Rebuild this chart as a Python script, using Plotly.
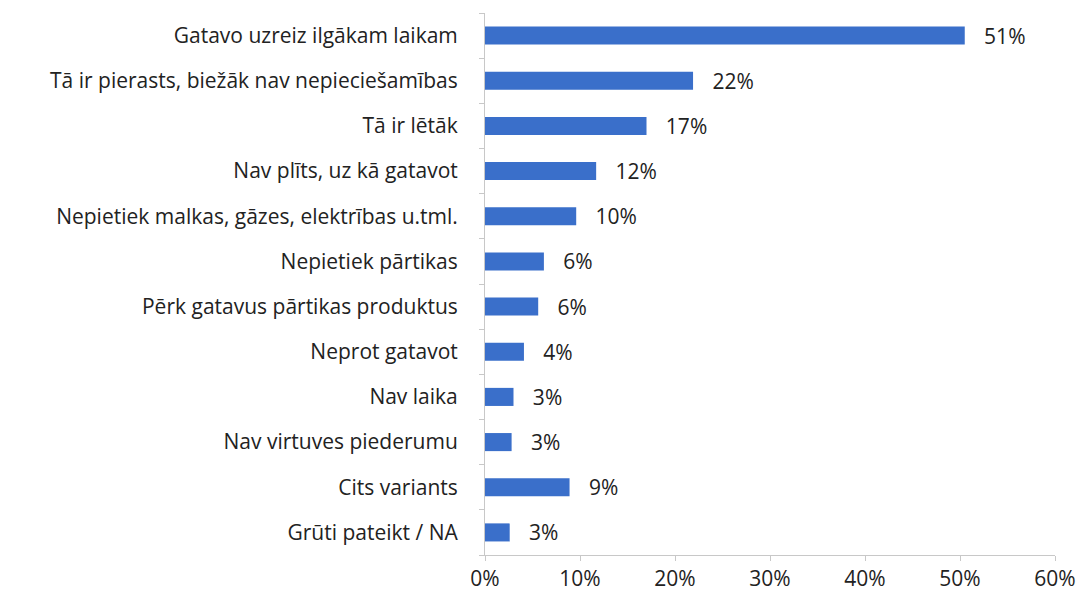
import plotly.graph_objects as go

categories = [
    "Gatavo uzreiz ilgākam laikam",
    "Tā ir pierasts, biežāk nav nepieciešamības",
    "Tā ir lētāk",
    "Nav plīts, uz kā gatavot",
    "Nepietiek malkas, gāzes, elektrības u.tml.",
    "Nepietiek pārtikas",
    "Pērk gatavus pārtikas produktus",
    "Neprot gatavot",
    "Nav laika",
    "Nav virtuves piederumu",
    "Cits variants",
    "Grūti pateikt / NA",
]
values = [50.5, 21.9, 17.0, 11.7, 9.6, 6.2, 5.6, 4.1, 3.0, 2.8, 8.9, 2.6]
labels = ["51%", "22%", "17%", "12%", "10%", "6%", "6%", "4%", "3%", "3%", "9%", "3%"]
x_ticks = [0, 10, 20, 30, 40, 50, 60]
x_tick_labels = ["0%", "10%", "20%", "30%", "40%", "50%", "60%"]

FONT = "'Open Sans', Lato, sans-serif"

fig = go.Figure(
    go.Bar(
        y=categories,
        x=values,
        orientation="h",
        marker=dict(color="#3A6FCA", line=dict(width=0)),
        text=["\u00a0\u00a0\u00a0" + t for t in labels],
        textposition="outside",
        constraintext="none",
        textfont=dict(family=FONT, size=21, color="#222222"),
        cliponaxis=False,
        hoverinfo="skip",
    )
)

fig.update_layout(
    width=1080,
    height=601,
    margin=dict(l=485, r=25, t=13, b=46),
    paper_bgcolor="white",
    plot_bgcolor="white",
    bargap=0.6,
    showlegend=False,
    font=dict(family=FONT, size=21, color="#222222"),
)
fig.update_xaxes(
    range=[0, 60],
    tickvals=x_ticks,
    ticktext=x_tick_labels,
    showgrid=False,
    zeroline=False,
    showline=True,
    linecolor="#c8c8c8",
    linewidth=1,
    ticks="outside",
    ticklen=5,
    tickcolor="#c8c8c8",
    automargin=False,
    tickfont=dict(family=FONT, size=21, color="#222222"),
)
fig.update_yaxes(
    categoryorder="array",
    categoryarray=categories[::-1],
    showgrid=False,
    showline=True,
    linecolor="#c8c8c8",
    linewidth=1,
    ticks="outside",
    tickson="boundaries",
    ticklen=5,
    tickcolor="#c8c8c8",
    ticklabelstandoff=22,
    automargin=False,
    tickfont=dict(family=FONT, size=21, color="#222222"),
)

fig.write_html(
    "out.html",
    config={"displayModeBar": False},
    post_script="document.body.style.margin='0';document.body.style.overflow='hidden';",
)
